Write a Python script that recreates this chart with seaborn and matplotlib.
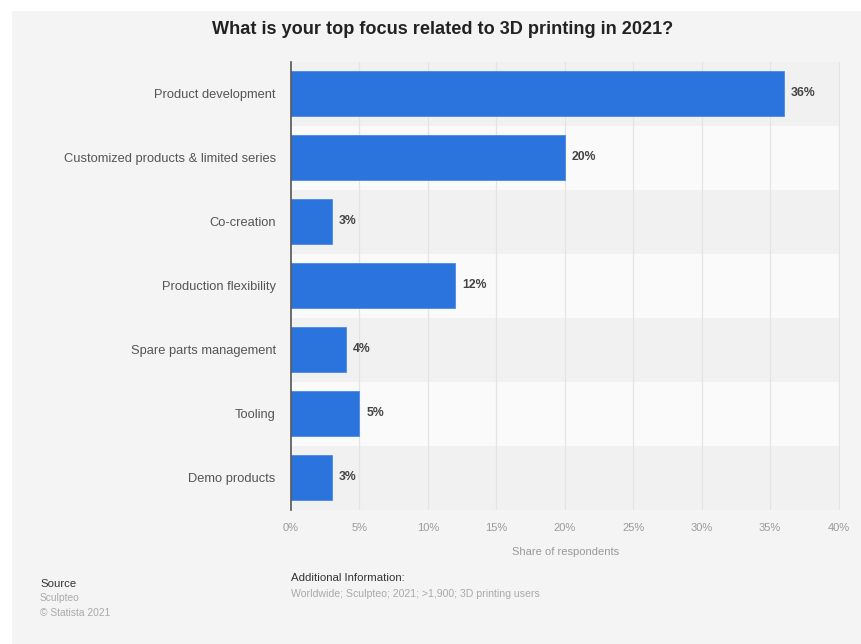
import matplotlib
matplotlib.use("Agg")
import matplotlib.pyplot as plt
from matplotlib.patches import Rectangle
import seaborn as sns
import pandas as pd

categories = [
    "Product development",
    "Customized products & limited series",
    "Co-creation",
    "Production flexibility",
    "Spare parts management",
    "Tooling",
    "Demo products",
]
shares = [36, 20, 3, 12, 4, 5, 3]
x_ticks = [0, 5, 10, 15, 20, 25, 30, 35, 40]
x_tick_labels = [f"{t}%" for t in x_ticks]

title = "What is your top focus related to 3D printing in 2021?"
x_label = "Share of respondents"

df = pd.DataFrame({"category": categories, "share": shares})

sns.set_theme(style="white")
plt.rcParams["font.family"] = ["Liberation Sans", "DejaVu Sans"]

W, H = 861, 644
fig = plt.figure(figsize=(W / 100, H / 100), dpi=100, facecolor="white")

# panel background with a thin white margin on the left and top
fig.patches.append(Rectangle((12 / W, 0), 1 - 12 / W, 1 - 11 / H,
                             transform=fig.transFigure, facecolor="#f4f4f4",
                             edgecolor="none", zorder=-10))

ax = fig.add_axes([291 / W, 1 - 509.5 / H, (840 - 291) / W, (509.5 - 61.5) / H])
ax.set_facecolor("none")

# alternating row shading
for i in range(len(categories)):
    ax.axhspan(i - 0.5, i + 0.5, color="#f1f1f1" if i % 2 == 0 else "#fafafa",
               zorder=0, lw=0)

for t in x_ticks[1:]:
    ax.axvline(t, color="#e4e4e4", lw=0.9, zorder=0.5)

sns.barplot(data=df, x="share", y="category", orient="h", color="#2b74dd",
            saturation=1, width=0.70, ax=ax, zorder=2, edgecolor="#4a8ae3",
            linewidth=0.6)

ax.bar_label(ax.containers[0], labels=[f"{v}%" for v in shares], padding=5,
             fontsize=8.8, color="#444444", fontweight="bold")

ax.set_xlim(0, 40.1)
ax.set_ylim(len(categories) - 0.5, -0.5)
ax.set_xticks(x_ticks)
ax.set_xticklabels(x_tick_labels, color="#9a9a9a", fontsize=8)
ax.tick_params(axis="x", length=0, pad=10)
ax.tick_params(axis="y", length=0, pad=11, labelsize=9.3, labelcolor="#555555")
ax.set_ylabel("")
ax.set_xlabel(x_label, color="#9a9a9a", fontsize=8, labelpad=10)

for side in ["top", "right", "bottom"]:
    ax.spines[side].set_visible(False)
ax.spines["left"].set_color("#555555")
ax.spines["left"].set_linewidth(1.2)
ax.spines["left"].set_zorder(3)

fig.text(443 / W, 1 - 30 / H, title, ha="center", va="center",
         fontsize=13.1, fontweight="bold", color="#222222")

fig.text(40 / W, 1 - 584 / H, "Source", fontsize=8.2, color="#333333", va="center")
fig.text(40 / W, 1 - 598 / H, "Sculpteo", fontsize=7.4, color="#aaaaaa", va="center")
fig.text(40 / W, 1 - 613 / H, "\u00a9 Statista 2021", fontsize=7.4, color="#aaaaaa", va="center")
fig.text(291 / W, 1 - 578 / H, "Additional Information:", fontsize=8.2,
         color="#333333", va="center")
fig.text(291 / W, 1 - 594 / H,
         "Worldwide; Sculpteo; 2021; >1,900; 3D printing users",
         fontsize=7.6, color="#aaaaaa", va="center")

fig.savefig("out.png", dpi=100, facecolor="white")
